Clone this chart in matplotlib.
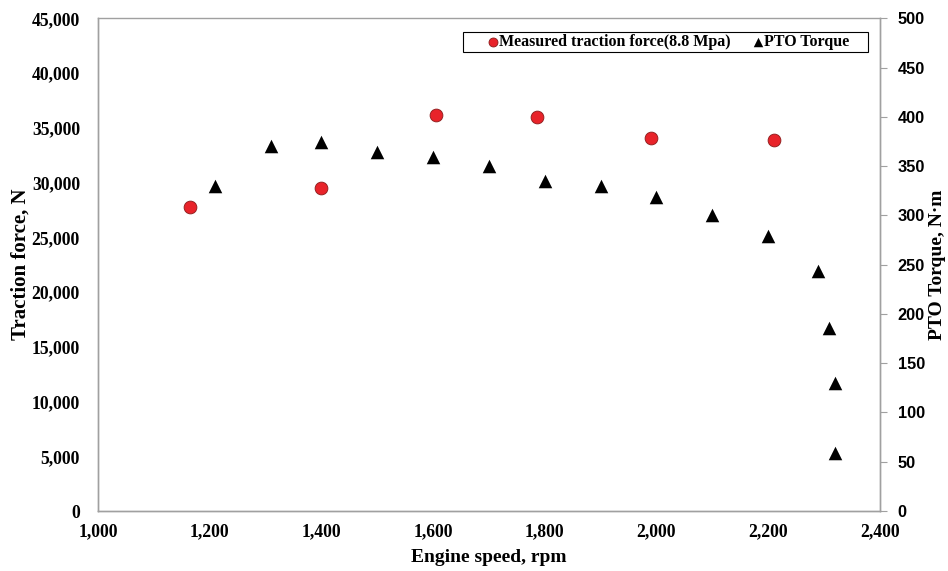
import numpy as np
from matplotlib import pyplot as plt
from matplotlib.patches import Rectangle

# measured traction force (left axis)
force_rpm = [1165, 1400, 1605, 1786, 1990, 2210]
force_n = [27750, 29480, 36150, 35960, 34050, 33860]

# PTO torque (right axis)
torque_rpm = [1210, 1310, 1400, 1500, 1600, 1700, 1800, 1900, 2000, 2100, 2200, 2290, 2310, 2320, 2320]
torque_nm = [330, 370, 374, 364, 359, 350, 335, 330, 319, 300, 279, 244, 186, 130, 59]

serif = 'Liberation Serif'
grey = '#a0a0a0'

fig = plt.figure(figsize=(9.48, 5.71), dpi=100)
ax = fig.add_axes([0.1034, 0.105, 0.8246, 0.863])
ax2 = ax.twinx()

h1 = ax.scatter(force_rpm, force_n, s=85, c='#e8232a', edgecolors='#8a1a1a', linewidths=0.6,
                zorder=3, label='Measured traction force(8.8 Mpa)')
h2 = ax2.scatter(torque_rpm, torque_nm, s=95, c='black', marker='^', linewidths=0,
                 zorder=3, label='PTO Torque')

ax.set_xlim(1000, 2400)
ax.set_ylim(0, 45000)
ax2.set_ylim(0, 500)
ax.set_xticks(np.arange(1000, 2401, 200))
ax.set_yticks(np.arange(0, 45001, 5000))
ax2.set_yticks(np.arange(0, 501, 50))
ax.xaxis.set_major_formatter(plt.FuncFormatter(lambda v, p: f'{int(v):,}'))
ax.yaxis.set_major_formatter(plt.FuncFormatter(lambda v, p: f'{int(v):,}'))

for t in ax.get_xticklabels() + ax.get_yticklabels():
    t.set_fontfamily(serif)
    t.set_fontweight('bold')
    t.set_fontsize(12.7)
for t in ax2.get_yticklabels():
    t.set_fontfamily('Liberation Sans')
    t.set_fontweight('bold')
    t.set_fontsize(11.8)

ax.tick_params(axis='y', length=0, pad=13)
ax.tick_params(axis='x', length=0, pad=9)
ax2.tick_params(axis='y', length=5, color=grey, pad=8)

for a in (ax, ax2):
    for s in a.spines.values():
        s.set_color(grey)
        s.set_linewidth(1.0)
ax2.spines['top'].set_visible(False)

ax.set_xlabel('Engine speed, rpm', fontfamily=serif, fontweight='bold', fontsize=14, labelpad=6)
ax.set_ylabel('Traction force, N', fontfamily=serif, fontweight='bold', fontsize=15, labelpad=1)
ax2.set_ylabel('PTO Torque, N\u00b7m', fontfamily=serif, fontweight='bold', fontsize=14)
ax2.yaxis.set_label_coords(1.074, 0.5)
ax2.yaxis.label.set_va('center')

# legend: frame drawn separately so it can be wider than the entries
ax2.add_patch(Rectangle((0.4668, 0.931), 0.5179, 0.041, transform=ax2.transAxes, fill=True,
                        facecolor='white', edgecolor='black', linewidth=0.8, zorder=4))
leg = ax2.legend(handles=[h1, h2], loc='center left', ncol=2, bbox_to_anchor=(0.4949, 0.9515),
                 prop={'family': serif, 'weight': 'bold', 'size': 11.5}, frameon=False,
                 handletextpad=-0.1, columnspacing=1.2, markerscale=0.7, borderpad=0,
                 handlelength=1.0, borderaxespad=0)
leg.set_zorder(5)

fig.savefig('out.png', dpi=100)
